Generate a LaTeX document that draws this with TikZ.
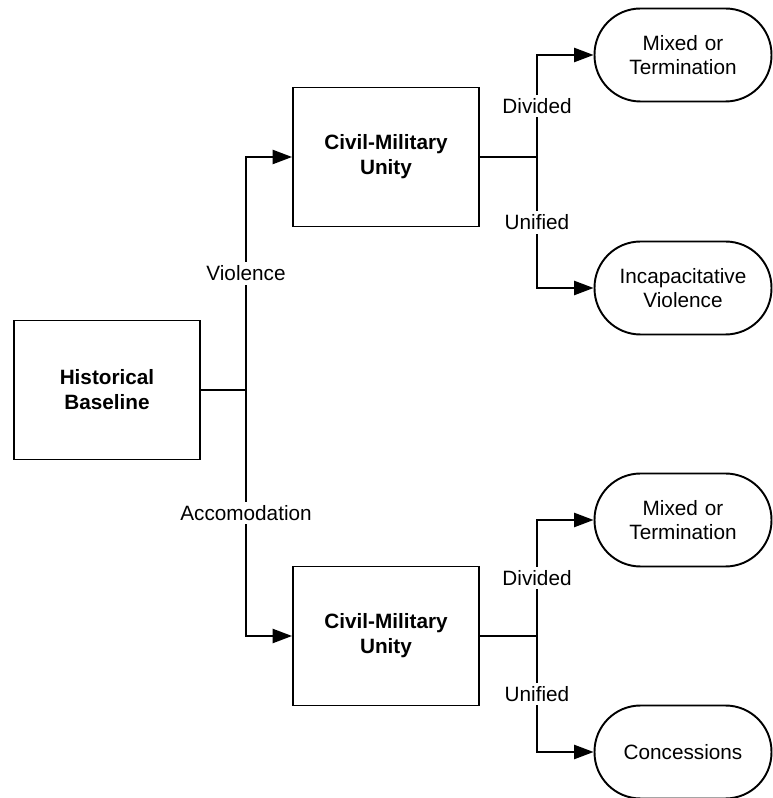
\documentclass[tikz,border=0pt]{standalone}
\usepackage{fontspec}
\setmainfont{Liberation Sans}
\usepackage{tikz}
\usetikzlibrary{shapes.geometric, arrows.meta}
\tikzstyle{rect} = [rectangle,
minimum width=3.72cm,
minimum height=2.78cm,
text centered,
text width=3.4cm,
draw=black, line width=1.1pt,
font=\fontsize{11.8}{14.2}\selectfont\bfseries]
\tikzstyle{terminal} = [rectangle, rounded corners=0.92cm,
minimum width=3.54cm,
minimum height=1.86cm,
text centered,
text width=3.2cm,
draw=black, line width=1.1pt,
font=\fontsize{11.8}{14}\selectfont]
\tikzstyle{line} = [line width=1.1pt]
\tikzstyle{arrow} = [line width=1.1pt,-{Triangle[length=11pt,width=8pt]}]
\tikzstyle{tag} = [fill=white, inner sep=2pt, font=\fontsize{11.8}{14.2}\selectfont]

\begin{document}
\begin{tikzpicture}[x=0.02cm, y=0.02cm]
            \useasboundingbox (0,0) rectangle (773,798);
            \node (base) [rect] at (107,408) {Historical Baseline};
            \node (cmu1) [rect] at (386,641) {Civil-Military Unity};
            \node (cmu2) [rect] at (386,162) {Civil-Military Unity};
            \node (mixed1) [terminal] at (683,743) {Mixed or Termination};
            \node (incap) [terminal] at (683,510) {Incapacitative Violence};
            \node (mixed2) [terminal] at (683,278) {Mixed or Termination};
            \node (conc) [terminal] at (683,46) {Concessions};

            \coordinate (split) at (246,408);
            \coordinate (fork1) at (537,641);
            \coordinate (fork2) at (537,162);

            \draw [line] (base) -- (split);
            \draw [arrow] (split) |- node [tag, pos=0.25] {Violence} (cmu1);
            \draw [arrow] (split) |- node [tag, pos=0.25] {Accomodation} (cmu2);

            \draw [line] (cmu1) -- (fork1);
            \draw [arrow] (fork1) |- node [tag, pos=0.25] {Divided} (mixed1);
            \draw [arrow] (fork1) |- node [tag, pos=0.25] {Unified} (incap);

            \draw [line] (cmu2) -- (fork2);
            \draw [arrow] (fork2) |- node [tag, pos=0.25] {Divided} (mixed2);
            \draw [arrow] (fork2) |- node [tag, pos=0.25] {Unified} (conc);
        \end{tikzpicture}
\end{document}
